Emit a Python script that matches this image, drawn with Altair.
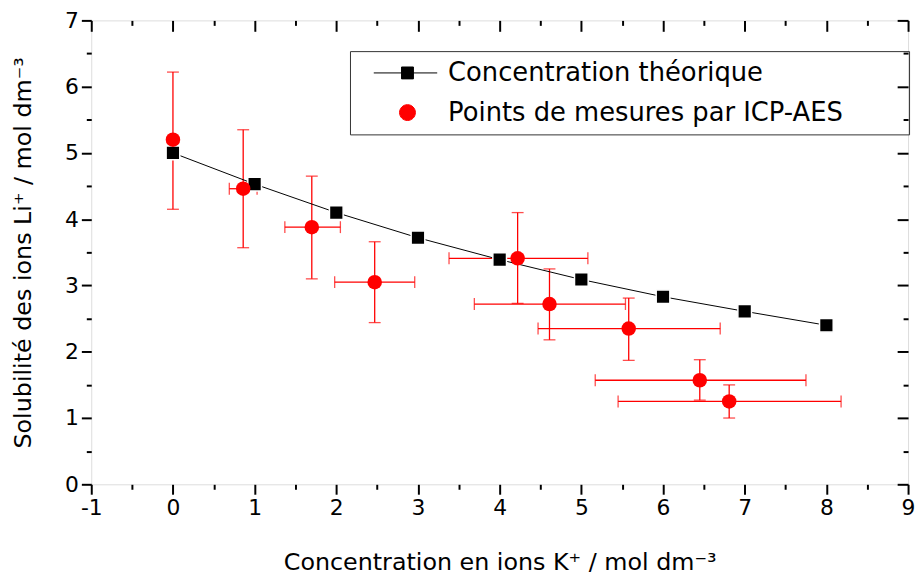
import altair as alt
import pandas as pd

# ---- data ----
theory_x = [0, 1, 2, 3, 4, 5, 6, 7, 8]
theory_y = [5.00, 4.53, 4.10, 3.72, 3.39, 3.09, 2.83, 2.61, 2.40]

meas_x = [0.00, 0.86, 1.70, 2.47, 4.22, 4.61, 5.58, 6.45, 6.81]
meas_y = [5.20, 4.46, 3.88, 3.05, 3.41, 2.72, 2.35, 1.57, 1.25]
meas_x_lo = [0.00, 0.69, 1.37, 1.98, 3.38, 3.69, 4.47, 5.17, 5.45]
meas_x_hi = [0.00, 1.03, 2.05, 2.96, 5.08, 5.54, 6.70, 7.75, 8.18]
meas_y_lo = [4.15, 3.57, 3.10, 2.44, 2.73, 2.18, 1.87, 1.27, 1.00]
meas_y_hi = [6.22, 5.35, 4.65, 3.66, 4.10, 3.25, 2.81, 1.88, 1.50]

series_names = ["Concentration théorique", "Points de mesures par ICP-AES"]
x_major = [-1, 0, 1, 2, 3, 4, 5, 6, 7, 8, 9]
x_minor = [-0.5, 0.5, 1.5, 2.5, 3.5, 4.5, 5.5, 6.5, 7.5, 8.5]
y_major = [0, 1, 2, 3, 4, 5, 6, 7]
y_minor = [0.5, 1.5, 2.5, 3.5, 4.5, 5.5, 6.5]

x_title = "Concentration en ions K⁺ / mol dm⁻³"
y_title = "Solubilité des ions Li⁺ / mol dm⁻³"

theory = pd.DataFrame({"x": theory_x, "y": theory_y})
meas = pd.DataFrame({"x": meas_x, "y": meas_y, "xlo": meas_x_lo, "xhi": meas_x_hi,
                     "ylo": meas_y_lo, "yhi": meas_y_hi})
meas_xerr = meas[meas["xhi"] > meas["xlo"]]
legend_df = pd.DataFrame({"series": series_names,
                          "x": [theory_x[0], meas_x[0]], "y": [theory_y[0], meas_y[0]]})

FONT = "DejaVu Sans"
RED = "#ff0000"
XS = alt.Scale(domain=[-1, 9], nice=False, zero=False)
YS = alt.Scale(domain=[0, 7], nice=False, zero=False)


def ax_main(orient, values, title, title_pad):
    return alt.Axis(orient=orient, values=values, tickSize=10, tickWidth=2, tickColor="black",
                    domain=False, grid=False, labelFont=FONT, labelFontSize=22, labelColor="black",
                    labelPadding=3, labelExpr="'' + datum.value",
                    title=title, titleFont=FONT, titleFontSize=24,
                    titleFontWeight="normal", titleColor="black", titlePadding=title_pad,
                    labelFlush=False, labelOverlap=False)


def ax_ticks(orient, values, size, offset):
    return alt.Axis(orient=orient, values=values, tickSize=size, tickWidth=2, tickColor="black",
                    domain=False, grid=False, labels=False, title=None, offset=offset)


# error bars
ybar = alt.Chart(meas).mark_rule(color=RED, strokeWidth=1.3).encode(
    x=alt.X("x:Q", scale=XS, axis=ax_ticks("bottom", x_minor, 5, 0)),
    y=alt.Y("ylo:Q", scale=YS, axis=ax_ticks("left", y_minor, 5, 0)),
    y2="yhi:Q")
ycap_lo = alt.Chart(meas).mark_tick(color=RED, orient="horizontal", size=12, thickness=1.3).encode(
    x=alt.X("x:Q", scale=XS, axis=None), y=alt.Y("ylo:Q", scale=YS, axis=None))
ycap_hi = alt.Chart(meas).mark_tick(color=RED, orient="horizontal", size=12, thickness=1.3).encode(
    x=alt.X("x:Q", scale=XS, axis=None), y=alt.Y("yhi:Q", scale=YS, axis=None))
xbar = alt.Chart(meas_xerr).mark_rule(color=RED, strokeWidth=1.3).encode(
    x=alt.X("xlo:Q", scale=XS, axis=None), x2="xhi:Q",
    y=alt.Y("y:Q", scale=YS, axis=None))
xcap_lo = alt.Chart(meas_xerr).mark_tick(color=RED, orient="vertical", size=12, thickness=1.3).encode(
    x=alt.X("xlo:Q", scale=XS, axis=None), y=alt.Y("y:Q", scale=YS, axis=None))
xcap_hi = alt.Chart(meas_xerr).mark_tick(color=RED, orient="vertical", size=12, thickness=1.3).encode(
    x=alt.X("xhi:Q", scale=XS, axis=None), y=alt.Y("y:Q", scale=YS, axis=None))

line = alt.Chart(theory).mark_line(color="black", strokeWidth=1).encode(
    x=alt.X("x:Q", scale=XS, axis=ax_main("bottom", x_major, x_title, 33)),
    y=alt.Y("y:Q", scale=YS, axis=ax_main("left", y_major, y_title, 29)))
squares = alt.Chart(theory).mark_square(color="black", size=190, opacity=1,
                                        stroke="white", strokeWidth=1.5).encode(
    x=alt.X("x:Q", scale=XS, axis=ax_ticks("top", x_major, 11, -11)),
    y=alt.Y("y:Q", scale=YS, axis=ax_ticks("right", y_major, 11, -11)))
circles = alt.Chart(meas).mark_circle(color=RED, size=215, opacity=1).encode(
    x=alt.X("x:Q", scale=XS, axis=ax_ticks("top", x_minor, 5, -5)),
    y=alt.Y("y:Q", scale=YS, axis=ax_ticks("right", y_minor, 5, -5)))

sq_path = "M-1.25,0H6.75M2.25,-0.75H3.75V0.75H2.25Z"
ci_path = "M4,0A1,1 0 1,1 2,0A1,1 0 1,1 4,0Z"
legend_layer = alt.Chart(legend_df).mark_point(filled=True, opacity=0, strokeWidth=1).encode(
    x=alt.X("x:Q", scale=XS, axis=None),
    y=alt.Y("y:Q", scale=YS, axis=None),
    color=alt.Color("series:N", scale=alt.Scale(domain=series_names, range=["black", RED]),
                    legend=alt.Legend(title=None, orient="none", legendX=261, legendY=31,
                                      symbolSize=256, symbolOpacity=1, symbolStrokeWidth=1,
                                      labelFont=FONT, labelFontSize=26, labelColor="black",
                                      labelOffset=52, rowPadding=14, padding=9,
                                      labelExpr="datum.label + '\u2800\u2800\u2800'",
                                      strokeColor="#333333", symbolOffset=12,
                                      labelLimit=700)),
    stroke=alt.Stroke("series:N", scale=alt.Scale(domain=series_names, range=["black", RED]),
                      legend=None),
    shape=alt.Shape("series:N", scale=alt.Scale(domain=series_names, range=[sq_path, ci_path]),
                    legend=None))

chart = alt.layer(ybar, ycap_lo, ycap_hi, xbar, xcap_lo, xcap_hi, line, squares, circles,
                  legend_layer).resolve_axis(x="independent", y="independent").properties(
    width=824, height=468,
    autosize=alt.AutoSizeParams(type="none"),
    padding={"left": 84, "top": 10, "right": 7, "bottom": 90},
).configure_view(stroke="black", strokeWidth=2).configure(background="white")

chart.save("out.html", embed_options={"renderer": "svg", "actions": False})
